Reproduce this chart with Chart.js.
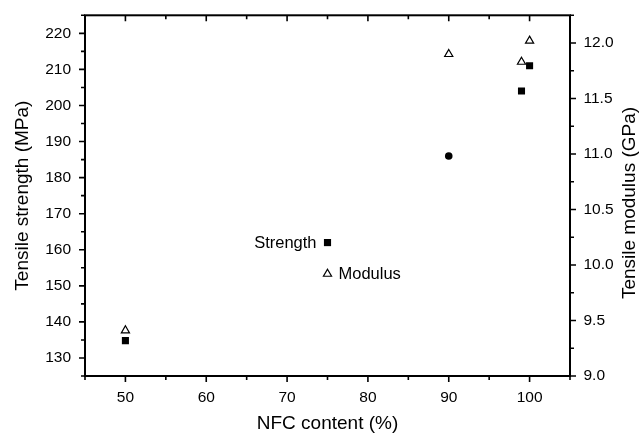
<!DOCTYPE html>
<html>
<head>
<meta charset="utf-8">
<script src="https://cdn.jsdelivr.net/npm/chart.js@4/dist/chart.umd.min.js"></script>
<style>
  html, body { margin: 0; padding: 0; background: #fff; }
  #wrap { width: 640px; height: 433px; }
</style>
</head>
<body>
<div id="wrap"><canvas id="nfcChart"></canvas></div>
<script>
// values
const nfcContent = [50, 90, 99, 100];
const strengthMPa = [134.8, 186, 204, 211];
const modulusGPa = [9.41, 11.9, 11.83, 12.02];

const xTicks = [45, 50, 55, 60, 65, 70, 75, 80, 85, 90, 95, 100, 105];
const strengthRange = [125, 225];
const modulusRange = [9.0, 12.25];

const FONT = "'Liberation Sans', Arial, sans-serif";
Chart.defaults.color = '#000';
Chart.defaults.font.family = FONT;

// frame, tick marks, legend and right-hand title
const framePlugin = {
    id: 'frame',
    afterDraw(chart) {
        const ctx = chart.ctx;
        const a = chart.chartArea;
        const xs = chart.scales.x, ys = chart.scales.y, y2 = chart.scales.y2;
        ctx.save();
        ctx.strokeStyle = '#000';
        ctx.lineWidth = 2;
        ctx.strokeRect(a.left, a.top, a.right - a.left, a.bottom - a.top);

        ctx.lineWidth = 1.6;
        ctx.beginPath();
        xs.ticks.forEach(t => {
            const px = xs.getPixelForValue(t.value);
            const len = t.value % 10 === 0 ? 6 : 4;
            ctx.moveTo(px, a.bottom); ctx.lineTo(px, a.bottom + len);
            ctx.moveTo(px, a.top); ctx.lineTo(px, a.top + len);
        });
        ys.ticks.forEach(t => {
            const py = ys.getPixelForValue(t.value);
            const len = t.value % 10 === 0 ? 6 : 4;
            ctx.moveTo(a.left, py); ctx.lineTo(a.left - len, py);
        });
        y2.ticks.forEach(t => {
            const py = y2.getPixelForValue(t.value);
            const major = Math.abs(t.value * 2 - Math.round(t.value * 2)) < 1e-6;
            ctx.moveTo(a.right, py); ctx.lineTo(a.right + (major ? 6 : 4), py);
        });
        ctx.stroke();

        // legend placed inside the plot
        const lx = xs.getPixelForValue(75);
        const sy = ys.getPixelForValue(162);
        const my = y2.getPixelForValue(9.92);
        Chart.helpers.drawPoint(ctx, { pointStyle: 'rect', radius: 5, borderWidth: 0 }, lx, sy);
        ctx.fillStyle = '#000';
        ctx.fill();
        ctx.fillStyle = '#fff';
        ctx.strokeStyle = '#000';
        ctx.lineWidth = 1.2;
        Chart.helpers.drawPoint(ctx, { pointStyle: 'triangle', radius: 4.7, borderWidth: 1.2 }, lx, my);
        ctx.fillStyle = '#000';
        ctx.font = '16.5px ' + FONT;
        ctx.textBaseline = 'middle';
        ctx.textAlign = 'right';
        ctx.fillText('Strength', lx - 11, sy + 1);
        ctx.textAlign = 'left';
        ctx.fillText('Modulus', lx + 11, my + 1);

        // right axis title, reading bottom to top
        ctx.font = '19px ' + FONT;
        ctx.textAlign = 'center';
        ctx.translate(630, 203);
        ctx.rotate(-Math.PI / 2);
        ctx.fillText('Tensile modulus (GPa)', 0, 0);
        ctx.restore();
    }
};

const tickFont = { size: 15.5, family: FONT };

new Chart(document.getElementById('nfcChart'), {
    type: 'scatter',
    data: {
        datasets: [{
            label: 'Strength',
            data: nfcContent.map((x, i) => ({ x: x, y: strengthMPa[i] })),
            yAxisID: 'y',
            pointStyle: ctx => ctx.dataIndex === 1 ? 'circle' : 'rect',
            pointRadius: ctx => ctx.dataIndex === 1 ? 3.8 : 5,
            backgroundColor: '#000',
            borderColor: '#000',
            borderWidth: 0
        }, {
            label: 'Modulus',
            data: nfcContent.map((x, i) => ({ x: x, y: modulusGPa[i] })),
            yAxisID: 'y2',
            pointStyle: 'triangle',
            pointRadius: 4.7,
            backgroundColor: '#fff',
            borderColor: '#000',
            borderWidth: 1.2
        }]
    },
    options: {
        responsive: true,
        maintainAspectRatio: false,
        animation: false,
        layout: { padding: { top: 15, left: 0, right: 0, bottom: 0 } },
        plugins: {
            legend: { display: false },
            tooltip: { enabled: false }
        },
        scales: {
            x: {
                type: 'linear',
                min: xTicks[0],
                max: xTicks[xTicks.length - 1],
                afterBuildTicks: scale => { scale.ticks = xTicks.map(v => ({ value: v })); },
                afterFit: scale => { scale.height = 57; },
                grid: { display: false },
                border: { display: false },
                ticks: {
                    autoSkip: false,
                    maxRotation: 0,
                    padding: 4,
                    font: tickFont,
                    callback: v => v % 10 === 0 ? v : ''
                },
                title: {
                    display: true,
                    text: 'NFC content (%)',
                    font: { size: 19, family: FONT, lineHeight: 1 },
                    padding: { top: 0, bottom: 0 }
                }
            },
            y: {
                position: 'left',
                min: strengthRange[0],
                max: strengthRange[1],
                afterFit: scale => { scale.width = 85; },
                grid: { display: false },
                border: { display: false },
                ticks: {
                    stepSize: 5,
                    autoSkip: false,
                    padding: 6,
                    font: tickFont,
                    callback: v => v % 10 === 0 ? v : ''
                },
                title: {
                    display: true,
                    text: 'Tensile strength (MPa)',
                    font: { size: 19, family: FONT, lineHeight: 1 },
                    padding: { top: 13.5, bottom: 0 }
                }
            },
            y2: {
                position: 'right',
                min: modulusRange[0],
                max: modulusRange[1],
                afterFit: scale => { scale.width = 70; },
                grid: { display: false },
                border: { display: false },
                ticks: {
                    stepSize: 0.25,
                    autoSkip: false,
                    padding: 5.5,
                    font: tickFont,
                    callback: v => Math.abs(v * 2 - Math.round(v * 2)) < 1e-6 ? v.toFixed(1) : ''
                }
            }
        }
    },
    plugins: [framePlugin]
});
</script>
</body>
</html>
